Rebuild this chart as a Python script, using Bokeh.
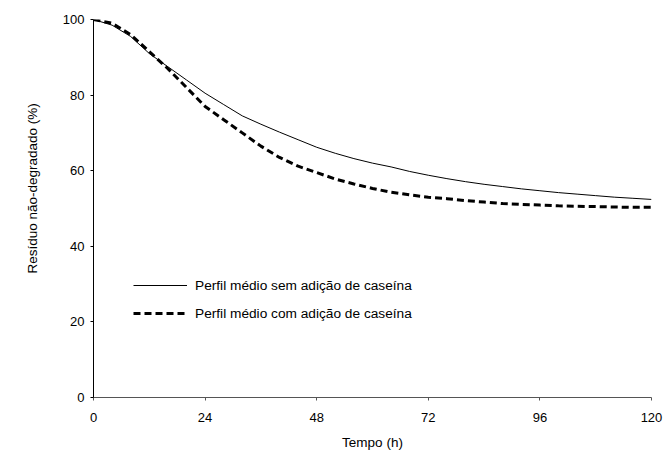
from bokeh.plotting import figure
from bokeh.models import FixedTicker, Legend, LegendItem, Range1d, Title
from bokeh.embed import file_html
from bokeh.resources import INLINE

hours = [0, 4, 8, 12, 16, 20, 24, 28, 32, 36, 40, 44, 48, 52, 56, 60, 64, 68, 72,
         76, 80, 84, 88, 92, 96, 100, 104, 108, 112, 116, 120]
sem_caseina = [100, 98.5, 95.5, 91, 87.5, 84, 80.5, 77.5, 74.5, 72.3, 70.2, 68.2, 66.2,
               64.6, 63.2, 62, 61, 59.8, 58.8, 57.9, 57.1, 56.4, 55.8, 55.2, 54.7, 54.2,
               53.8, 53.4, 53, 52.7, 52.4]
com_caseina = [100, 99, 96, 91.5, 87, 82, 77, 73.5, 70, 66.5, 63.5, 61.2, 59.5, 57.8,
               56.5, 55.3, 54.3, 53.6, 53, 52.6, 52.1, 51.7, 51.3, 51.1, 50.9, 50.7,
               50.6, 50.5, 50.4, 50.3, 50.3]
x_ticks = [0, 24, 48, 72, 96, 120]
y_ticks = [0, 20, 40, 60, 80, 100]
label_sem = "Perfil médio sem adição de caseína"
label_com = "Perfil médio com adição de caseína"
x_title = "Tempo (h)"
y_title = "Resíduo não-degradado (%)"

FONT = "Liberation Sans"

p = figure(width=665, height=452, output_backend="svg", toolbar_location=None,
           x_range=Range1d(0, 120), y_range=Range1d(0, 100),
           min_border_left=93, min_border_right=14, min_border_top=19, min_border_bottom=55)
p.outline_line_color = None
p.xgrid.visible = False
p.ygrid.visible = False
p.background_fill_color = "white"
p.border_fill_color = "white"

r1 = p.line(hours, sem_caseina, line_color="black", line_width=1)
r2 = p.line(hours, com_caseina, line_color="black", line_width=3, line_dash="7 4")

for ax in (p.xaxis[0], p.yaxis[0]):
    ax.axis_line_color = "black"
    ax.major_tick_line_color = "black"
    ax.major_tick_in = 0
    ax.major_tick_out = 3
    ax.minor_tick_line_color = None
    ax.major_label_text_font = FONT
    ax.major_label_text_font_size = "13px"
    ax.major_label_text_color = "black"
    ax.axis_label_text_font = FONT
    ax.axis_label_text_font_size = "13.5px"
    ax.axis_label_text_font_style = "normal"
    ax.axis_label_text_color = "black"

p.xaxis.axis_line_color = "#555555"
p.xaxis.major_tick_line_color = "#555555"
p.xaxis.ticker = FixedTicker(ticks=x_ticks)
p.yaxis.ticker = FixedTicker(ticks=y_ticks)
p.xaxis.axis_label = x_title
p.xaxis.major_label_standoff = 12
p.yaxis.major_label_standoff = 6
p.xaxis.axis_label_standoff = 10

# y-axis title as a side title so that it can sit a little above the frame's middle
p.add_layout(Title(text=y_title, align="left", offset=124, standoff=40,
                   text_font=FONT, text_font_size="13.5px", text_font_style="normal",
                   text_color="black"), "left")

legend = Legend(items=[LegendItem(label=label_sem, renderers=[r1]),
                       LegendItem(label=label_com, renderers=[r2])],
                location=(40, 74), padding=0, margin=0, spacing=8,
                glyph_width=54, glyph_height=20, label_height=20, label_standoff=8,
                border_line_alpha=0, background_fill_alpha=0,
                label_text_font=FONT, label_text_font_size="13.7px", label_text_color="black")
p.add_layout(legend)

open("out.html", "w").write(file_html(p, INLINE))
